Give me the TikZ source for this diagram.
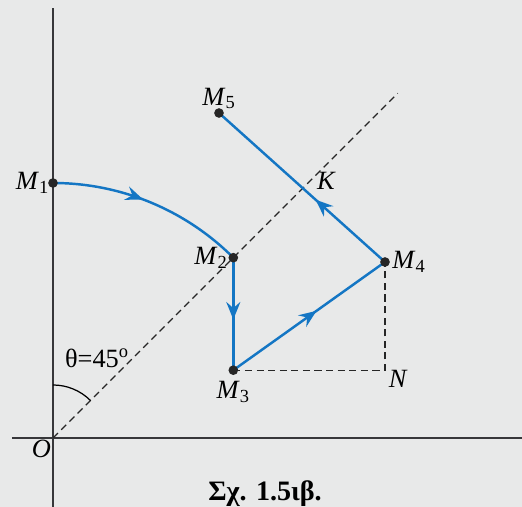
\documentclass[tikz,border=0pt]{standalone}
\usepackage{fontspec}
\setmainfont{Liberation Serif}
\usepackage{tikz}
\usetikzlibrary{arrows.meta, positioning, calc, decorations.markings}
\definecolor{pathblue}{RGB}{20,118,196}
\definecolor{paper}{RGB}{232,233,233}
\definecolor{axisgray}{RGB}{55,55,58}
\newcommand{\Mlab}[1]{\textit{M}\textsubscript{#1}}

\begin{document}
\begin{tikzpicture}[
    font=\fontsize{15}{17}\selectfont,
    axis/.style={draw=axisgray, line width=0.8pt},
    guide/.style={draw=black!85, line width=0.7pt, dash pattern=on 4pt off 2.6pt},
    route/.style={draw=pathblue, line width=1.4pt},
    midarr/.style={postaction={decorate}, decoration={markings,
        mark=at position #1 with {\arrow{Stealth[length=10pt, width=8pt, inset=3.5pt]}}}},
    dot/.style={circle, fill=black!85, inner sep=0pt, minimum size=5.5pt},
    lbl/.style={inner sep=1pt},
  ]
    \useasboundingbox[fill=paper] (-1.06,-1.38) rectangle (9.38,8.76);

    % points
    \coordinate (O) at (0,0);
    \coordinate (Ytop) at (0,8.6);
    \coordinate (Ybot) at (0,-1.38);
    \coordinate (Xl) at (-0.82,0);
    \coordinate (Xr) at (9.38,0);
    \coordinate (D) at (45:9.75);
    \coordinate (M1) at (90:5.1);
    \coordinate (M2) at (45:5.1);
    \coordinate (M3) at ($(M2)+(0,-2.25)$);
    \coordinate (M4) at (6.64,3.52);
    \coordinate (M5) at (3.32,6.5);
    \coordinate (N) at (M4 |- M3);
    \coordinate (K) at (intersection of O--D and M4--M5);
    \coordinate (A1) at (90:1.06);

    % axes and guides
    \draw[axis] (Ybot) -- (Ytop);
    \draw[axis] (Xl) -- (Xr);
    \draw[guide] (O) -- (D);
    \draw[guide] (M3) -- (N) -- (M4);
    \draw[line width=0.7pt] (A1) arc[start angle=90, end angle=45, radius=1.06];

    % path
    \draw[route, midarr=0.46] (M1) arc[start angle=90, end angle=45, radius=5.1];
    \draw[route, midarr=0.55] (M2) -- (M3);
    \draw[route, midarr=0.55] (M3) -- (M4);
    \draw[route, midarr=0.42] (M4) -- (M5);

    \foreach \p in {M1,M2,M3,M4,M5}
      \node[dot] at (\p) {};

    % labels
    \node[lbl, left=1pt of M1] (m1) {\Mlab{1}};
    \node[lbl, left=2pt of M2] (m2) {\Mlab{2}};
    \node[lbl, below=5pt of M3] (m3) {\Mlab{3}};
    \node[lbl, right=3pt of M4] (m4) {\Mlab{4}};
    \node[lbl, above=1pt of M5] (m5) {\Mlab{5}};
    \node[lbl, above right=-2pt and 7pt of K] (k) {\textit{K}};
    \node[lbl, below right=-1pt and 1pt of N] (n) {\textit{N}};
    \node[lbl, below left=0pt and 0pt of O] (o) {\textit{O}};
    \node[lbl] (theta) at (0.88,1.6) {θ=45\textsuperscript{o}};
    \node[anchor=base, font=\bfseries\fontsize{16}{18}\selectfont] (cap) at (4.24,-1.25) {Σχ. 1.5ιβ.};
  \end{tikzpicture}
\end{document}
